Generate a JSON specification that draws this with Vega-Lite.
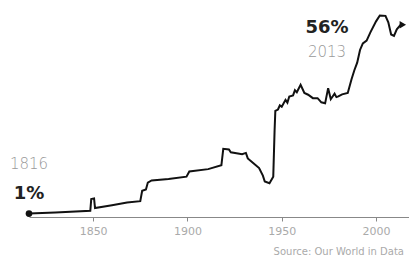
{
  "$schema": "https://vega.github.io/schema/vega-lite/v6.json",
  "width": 381,
  "height": 217,
  "autosize": "none",
  "padding": {"left": 29, "top": 0, "right": 0, "bottom": 46},
  "background": "white",
  "config": {"view": {"stroke": null}, "font": "DejaVu Sans"},
  "datasets": {
    "series": [
      {"year": 1816, "share": 1.0},
      {"year": 1830, "share": 1.3},
      {"year": 1848.5, "share": 1.8},
      {"year": 1849, "share": 5.2},
      {"year": 1850.5, "share": 5.4},
      {"year": 1851, "share": 2.6},
      {"year": 1860, "share": 3.4},
      {"year": 1868, "share": 4.2},
      {"year": 1875, "share": 4.6},
      {"year": 1876, "share": 7.6},
      {"year": 1878, "share": 8.0},
      {"year": 1879, "share": 10.0},
      {"year": 1881, "share": 10.6},
      {"year": 1890, "share": 11.0},
      {"year": 1899.5, "share": 11.7},
      {"year": 1901, "share": 13.2},
      {"year": 1911, "share": 13.9},
      {"year": 1918, "share": 15.0},
      {"year": 1919, "share": 19.8},
      {"year": 1922, "share": 19.6},
      {"year": 1923, "share": 18.8},
      {"year": 1926, "share": 18.5},
      {"year": 1929, "share": 18.2},
      {"year": 1931, "share": 18.6},
      {"year": 1932, "share": 17.0},
      {"year": 1935, "share": 15.6},
      {"year": 1938, "share": 14.2},
      {"year": 1940, "share": 12.0},
      {"year": 1941, "share": 10.3},
      {"year": 1943.5, "share": 9.8},
      {"year": 1945.5, "share": 11.7},
      {"year": 1946.2, "share": 25.0},
      {"year": 1946.6, "share": 30.8},
      {"year": 1948, "share": 31.2},
      {"year": 1949, "share": 32.4},
      {"year": 1950, "share": 32.0},
      {"year": 1952, "share": 34.0},
      {"year": 1953, "share": 33.2},
      {"year": 1954, "share": 35.0},
      {"year": 1956, "share": 35.3},
      {"year": 1957, "share": 36.8},
      {"year": 1958, "share": 36.2},
      {"year": 1960, "share": 38.4},
      {"year": 1962, "share": 36.0},
      {"year": 1964, "share": 35.5},
      {"year": 1966.5, "share": 34.5},
      {"year": 1969, "share": 34.5},
      {"year": 1971, "share": 33.3},
      {"year": 1973, "share": 33.0},
      {"year": 1974.6, "share": 37.4},
      {"year": 1976, "share": 34.2},
      {"year": 1978, "share": 35.8},
      {"year": 1979, "share": 34.8},
      {"year": 1980, "share": 35.0},
      {"year": 1982, "share": 35.6},
      {"year": 1985, "share": 36.0},
      {"year": 1987, "share": 40.0},
      {"year": 1988.5, "share": 42.6},
      {"year": 1990, "share": 44.8},
      {"year": 1991.5, "share": 48.5},
      {"year": 1993, "share": 50.4},
      {"year": 1995, "share": 51.2},
      {"year": 1997, "share": 53.6},
      {"year": 2000, "share": 56.8},
      {"year": 2002, "share": 58.5},
      {"year": 2005, "share": 58.4},
      {"year": 2006.5, "share": 56.5},
      {"year": 2008, "share": 53.0},
      {"year": 2009.5, "share": 52.6},
      {"year": 2011, "share": 54.5},
      {"year": 2013, "share": 55.8}
    ],
    "start": [{"year": 1816, "share": 1.0}],
    "end": [{"year": 2014.2, "share": 55.8}],
    "labels": [
      {"year": 1974, "share": 55.0, "text": "56%", "kind": "big"},
      {"year": 1974, "share": 48.0, "text": "2013", "kind": "small"},
      {"year": 1816, "share": 15.3, "text": "1816", "kind": "small"},
      {"year": 1816, "share": 6.8, "text": "1%", "kind": "big"}
    ]
  },
  "layer": [
    {
      "data": {"name": "series"},
      "mark": {"type": "line", "color": "#111111", "strokeWidth": 2, "interpolate": "linear"},
      "encoding": {
        "x": {
          "field": "year", "type": "quantitative",
          "scale": {"domain": [1816, 2018], "nice": false, "zero": false},
          "axis": {
            "values": [1850, 1900, 1950, 2000], "format": "d", "title": null,
            "grid": false, "domainColor": "#888888", "domainWidth": 1,
            "tickColor": "#888888", "tickSize": 4, "labelColor": "#aaaaaa",
            "labelFontSize": 11, "labelPadding": 4, "labelFont": "DejaVu Sans"
          }
        },
        "y": {
          "field": "share", "type": "quantitative",
          "scale": {"domain": [0, 63], "nice": false},
          "axis": null
        }
      }
    },
    {
      "data": {"name": "start"},
      "mark": {"type": "point", "filled": true, "color": "#111111", "size": 45, "opacity": 1},
      "encoding": {
        "x": {"field": "year", "type": "quantitative"},
        "y": {"field": "share", "type": "quantitative"}
      }
    },
    {
      "data": {"name": "end"},
      "mark": {"type": "point", "filled": true, "shape": "triangle-right", "color": "#111111", "size": 55, "opacity": 1},
      "encoding": {
        "x": {"field": "year", "type": "quantitative"},
        "y": {"field": "share", "type": "quantitative"}
      }
    },
    {
      "data": {"name": "labels"},
      "transform": [{"filter": "datum.kind === 'big'"}],
      "mark": {"type": "text", "fontSize": 18, "fontWeight": "bold", "color": "#222222", "baseline": "middle", "align": "center", "font": "DejaVu Sans"},
      "encoding": {
        "x": {"field": "year", "type": "quantitative"},
        "y": {"field": "share", "type": "quantitative"},
        "text": {"field": "text"}
      }
    },
    {
      "data": {"name": "labels"},
      "transform": [{"filter": "datum.kind === 'small'"}],
      "mark": {"type": "text", "fontSize": 15, "color": "#999999", "baseline": "middle", "align": "center", "font": "DejaVu Sans", "fontWeight": 300},
      "encoding": {
        "x": {"field": "year", "type": "quantitative"},
        "y": {"field": "share", "type": "quantitative"},
        "text": {"field": "text"}
      }
    },
    {
      "data": {"values": [{"t": "Source: Our World in Data"}]},
      "mark": {"type": "text", "align": "right", "baseline": "bottom", "fontSize": 10, "color": "#aaaaaa", "x": "width", "y": {"expr": "height + 40"}, "dx": -6},
      "encoding": {"text": {"field": "t"}}
    }
  ]
}
